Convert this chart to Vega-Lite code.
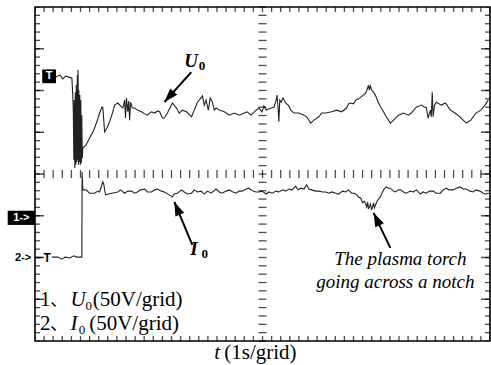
{
  "$schema": "https://vega.github.io/schema/vega-lite/v6.json",
  "width": 455,
  "height": 334,
  "autosize": {"type": "none"},
  "padding": {"left": 35, "top": 7, "right": 1, "bottom": 24},
  "background": "white",
  "config": {"view": {"stroke": "#000", "strokeWidth": 1.6}, "font": "Liberation Serif, Times New Roman, serif"},
  "datasets": {
    "u0": [
      {"x":0.44,"y":6.32},{"x":0.55,"y":6.37},{"x":0.61,"y":6.28},{"x":0.68,"y":6.35},{"x":0.74,"y":6.32},{"x":0.81,"y":6.30},{"x":0.83,"y":5.89},{"x":0.842,"y":5.53},
      {"x":0.853,"y":4.34},{"x":0.864,"y":5.77},{"x":0.875,"y":4.14},{"x":0.886,"y":5.96},{"x":0.897,"y":4.22},{"x":0.908,"y":6.13},{"x":0.919,"y":4.29},{"x":0.930,"y":6.37},{"x":0.941,"y":4.34},{"x":0.947,"y":6.49},{"x":0.956,"y":4.22},{"x":0.963,"y":6.01},{"x":0.974,"y":4.29},{"x":0.985,"y":5.89},{"x":0.996,"y":4.22},{"x":1.007,"y":5.77},{"x":1.018,"y":4.26},{"x":1.028,"y":5.41},{"x":1.039,"y":4.38},{"x":1.050,"y":4.62},
      {"x":1.12,"y":4.69},{"x":1.20,"y":4.86},{"x":1.29,"y":5.05},{"x":1.36,"y":5.25},{"x":1.42,"y":5.46},{"x":1.47,"y":5.60},{"x":1.49,"y":5.60},{"x":1.53,"y":5.01},{"x":1.58,"y":5.10},{"x":1.64,"y":5.25},{"x":1.71,"y":5.49},{"x":1.75,"y":5.65},{"x":1.82,"y":5.70},{"x":1.88,"y":5.63},{"x":1.93,"y":5.58},{"x":1.97,"y":5.77},{"x":1.99,"y":5.34},{"x":2.01,"y":5.82},{"x":2.04,"y":5.49},{"x":2.06,"y":5.75},{"x":2.08,"y":5.29},{"x":2.10,"y":5.72},{"x":2.14,"y":5.58},{"x":2.19,"y":5.58},{"x":2.25,"y":5.53},{"x":2.34,"y":5.49},{"x":2.41,"y":5.44},{"x":2.47,"y":5.41},{"x":2.56,"y":5.49},{"x":2.63,"y":5.46},{"x":2.69,"y":5.51},{"x":2.74,"y":5.49},{"x":2.80,"y":5.34},{"x":2.84,"y":5.34},{"x":2.91,"y":5.46},{"x":3.02,"y":5.70},{"x":3.11,"y":5.58},{"x":3.17,"y":5.46},{"x":3.24,"y":5.53},{"x":3.33,"y":5.49},{"x":3.44,"y":5.37},{"x":3.50,"y":5.53},{"x":3.57,"y":5.72},{"x":3.61,"y":5.77},{"x":3.68,"y":5.87},{"x":3.72,"y":5.65},{"x":3.76,"y":5.77},{"x":3.81,"y":5.53},{"x":3.85,"y":5.82},{"x":3.90,"y":5.72},{"x":3.94,"y":5.53},{"x":3.98,"y":5.58},{"x":4.05,"y":5.53},{"x":4.16,"y":5.49},{"x":4.27,"y":5.41},{"x":4.38,"y":5.46},{"x":4.49,"y":5.41},{"x":4.60,"y":5.46},{"x":4.66,"y":5.49},{"x":4.75,"y":5.41},{"x":4.86,"y":5.53},{"x":4.92,"y":5.58},{"x":4.99,"y":5.49},{"x":5.03,"y":5.63},{"x":5.08,"y":5.53},{"x":5.19,"y":5.58},{"x":5.25,"y":5.60},{"x":5.30,"y":5.77},{"x":5.32,"y":5.89},{"x":5.34,"y":5.63},{"x":5.36,"y":5.25},{"x":5.38,"y":5.77},{"x":5.41,"y":5.72},{"x":5.45,"y":5.82},{"x":5.51,"y":5.70},{"x":5.58,"y":5.63},{"x":5.62,"y":5.53},{"x":5.69,"y":5.46},{"x":5.80,"y":5.46},{"x":5.91,"y":5.41},{"x":5.97,"y":5.37},{"x":6.06,"y":5.22},{"x":6.13,"y":5.29},{"x":6.24,"y":5.37},{"x":6.30,"y":5.46},{"x":6.39,"y":5.46},{"x":6.52,"y":5.49},{"x":6.63,"y":5.53},{"x":6.74,"y":5.49},{"x":6.85,"y":5.58},{"x":6.89,"y":5.68},{"x":6.94,"y":5.70},{"x":7.00,"y":5.68},{"x":7.05,"y":5.77},{"x":7.11,"y":5.80},{"x":7.16,"y":5.84},{"x":7.22,"y":5.89},{"x":7.27,"y":5.94},{"x":7.31,"y":6.06},{"x":7.33,"y":6.13},{"x":7.35,"y":6.01},{"x":7.37,"y":6.11},{"x":7.40,"y":6.01},{"x":7.44,"y":5.96},{"x":7.48,"y":5.89},{"x":7.55,"y":5.70},{"x":7.61,"y":5.58},{"x":7.66,"y":5.49},{"x":7.72,"y":5.37},{"x":7.81,"y":5.22},{"x":7.88,"y":5.29},{"x":7.99,"y":5.41},{"x":8.10,"y":5.46},{"x":8.21,"y":5.41},{"x":8.27,"y":5.46},{"x":8.38,"y":5.60},{"x":8.49,"y":5.65},{"x":8.56,"y":5.60},{"x":8.60,"y":5.60},{"x":8.64,"y":5.34},{"x":8.69,"y":5.53},{"x":8.71,"y":5.37},{"x":8.73,"y":5.96},{"x":8.75,"y":5.37},{"x":8.78,"y":5.65},{"x":8.82,"y":5.72},{"x":8.93,"y":5.65},{"x":9.02,"y":5.70},{"x":9.13,"y":5.53},{"x":9.23,"y":5.46},{"x":9.34,"y":5.37},{"x":9.41,"y":5.29},{"x":9.48,"y":5.22},{"x":9.58,"y":5.29},{"x":9.69,"y":5.46},{"x":9.80,"y":5.53},{"x":9.89,"y":5.65},{"x":9.96,"y":5.77}
    ],
    "i0": [
      {"x":0.37,"y":2.01},{"x":0.50,"y":2.01},{"x":0.59,"y":1.96},{"x":0.66,"y":2.01},{"x":0.77,"y":1.99},{"x":0.85,"y":2.04},{"x":0.92,"y":2.01},{"x":1.03,"y":2.01},{"x":1.035,"y":4.05},{"x":1.05,"y":3.62},{"x":1.12,"y":3.62},{"x":1.20,"y":3.54},{"x":1.31,"y":3.54},{"x":1.38,"y":3.59},{"x":1.42,"y":3.57},{"x":1.49,"y":3.81},{"x":1.51,"y":3.76},{"x":1.55,"y":3.50},{"x":1.69,"y":3.54},{"x":1.82,"y":3.57},{"x":1.88,"y":3.62},{"x":1.97,"y":3.54},{"x":2.04,"y":3.59},{"x":2.12,"y":3.59},{"x":2.19,"y":3.54},{"x":2.25,"y":3.57},{"x":2.32,"y":3.62},{"x":2.41,"y":3.64},{"x":2.47,"y":3.57},{"x":2.56,"y":3.57},{"x":2.63,"y":3.62},{"x":2.69,"y":3.64},{"x":2.78,"y":3.59},{"x":2.84,"y":3.57},{"x":2.95,"y":3.50},{"x":3.02,"y":3.45},{"x":3.06,"y":3.52},{"x":3.13,"y":3.54},{"x":3.22,"y":3.62},{"x":3.28,"y":3.57},{"x":3.35,"y":3.52},{"x":3.44,"y":3.54},{"x":3.50,"y":3.62},{"x":3.57,"y":3.57},{"x":3.65,"y":3.59},{"x":3.72,"y":3.52},{"x":3.79,"y":3.59},{"x":3.87,"y":3.54},{"x":3.98,"y":3.64},{"x":4.05,"y":3.57},{"x":4.11,"y":3.54},{"x":4.20,"y":3.59},{"x":4.27,"y":3.62},{"x":4.35,"y":3.57},{"x":4.42,"y":3.54},{"x":4.49,"y":3.59},{"x":4.55,"y":3.59},{"x":4.64,"y":3.64},{"x":4.70,"y":3.66},{"x":4.79,"y":3.59},{"x":4.86,"y":3.57},{"x":4.92,"y":3.57},{"x":4.99,"y":3.59},{"x":5.08,"y":3.52},{"x":5.14,"y":3.57},{"x":5.21,"y":3.54},{"x":5.30,"y":3.59},{"x":5.36,"y":3.57},{"x":5.45,"y":3.62},{"x":5.51,"y":3.59},{"x":5.58,"y":3.64},{"x":5.65,"y":3.62},{"x":5.69,"y":3.66},{"x":5.73,"y":3.71},{"x":5.78,"y":3.62},{"x":5.84,"y":3.66},{"x":5.91,"y":3.64},{"x":5.97,"y":3.74},{"x":6.02,"y":3.64},{"x":6.08,"y":3.62},{"x":6.17,"y":3.59},{"x":6.24,"y":3.59},{"x":6.32,"y":3.57},{"x":6.39,"y":3.57},{"x":6.46,"y":3.54},{"x":6.52,"y":3.57},{"x":6.61,"y":3.54},{"x":6.67,"y":3.52},{"x":6.76,"y":3.59},{"x":6.83,"y":3.57},{"x":6.89,"y":3.62},{"x":6.96,"y":3.54},{"x":7.02,"y":3.54},{"x":7.07,"y":3.50},{"x":7.11,"y":3.45},{"x":7.16,"y":3.42},{"x":7.20,"y":3.31},{"x":7.24,"y":3.35},{"x":7.29,"y":3.21},{"x":7.31,"y":3.33},{"x":7.33,"y":3.16},{"x":7.37,"y":3.28},{"x":7.40,"y":3.14},{"x":7.44,"y":3.31},{"x":7.46,"y":3.19},{"x":7.51,"y":3.33},{"x":7.55,"y":3.40},{"x":7.59,"y":3.45},{"x":7.66,"y":3.62},{"x":7.72,"y":3.69},{"x":7.77,"y":3.66},{"x":7.81,"y":3.66},{"x":7.88,"y":3.59},{"x":7.92,"y":3.57},{"x":7.99,"y":3.62},{"x":8.03,"y":3.62},{"x":8.10,"y":3.57},{"x":8.16,"y":3.54},{"x":8.25,"y":3.59},{"x":8.32,"y":3.57},{"x":8.38,"y":3.62},{"x":8.47,"y":3.52},{"x":8.53,"y":3.57},{"x":8.60,"y":3.54},{"x":8.67,"y":3.59},{"x":8.75,"y":3.59},{"x":8.82,"y":3.54},{"x":8.91,"y":3.54},{"x":8.97,"y":3.62},{"x":9.04,"y":3.66},{"x":9.10,"y":3.62},{"x":9.19,"y":3.62},{"x":9.26,"y":3.66},{"x":9.34,"y":3.69},{"x":9.41,"y":3.64},{"x":9.48,"y":3.64},{"x":9.56,"y":3.59},{"x":9.63,"y":3.57},{"x":9.69,"y":3.62},{"x":9.78,"y":3.59},{"x":9.85,"y":3.54},{"x":9.91,"y":3.52},{"x":9.98,"y":3.54}
    ],
    "xt": [{"t":0},{"t":0.2},{"t":0.4},{"t":0.6},{"t":0.8},{"t":1},{"t":1.2},{"t":1.4},{"t":1.6},{"t":1.8},{"t":2},{"t":2.2},{"t":2.4},{"t":2.6},{"t":2.8},{"t":3},{"t":3.2},{"t":3.4},{"t":3.6},{"t":3.8},{"t":4},{"t":4.2},{"t":4.4},{"t":4.6},{"t":4.8},{"t":5},{"t":5.2},{"t":5.4},{"t":5.6},{"t":5.8},{"t":6},{"t":6.2},{"t":6.4},{"t":6.6},{"t":6.8},{"t":7},{"t":7.2},{"t":7.4},{"t":7.6},{"t":7.8},{"t":8},{"t":8.2},{"t":8.4},{"t":8.6},{"t":8.8},{"t":9},{"t":9.2},{"t":9.4},{"t":9.6},{"t":9.8},{"t":10}],
    "yt": [{"v":0},{"v":0.2},{"v":0.4},{"v":0.6},{"v":0.8},{"v":1},{"v":1.2},{"v":1.4},{"v":1.6},{"v":1.8},{"v":2},{"v":2.2},{"v":2.4},{"v":2.6},{"v":2.8},{"v":3},{"v":3.2},{"v":3.4},{"v":3.6},{"v":3.8},{"v":4},{"v":4.2},{"v":4.4},{"v":4.6},{"v":4.8},{"v":5},{"v":5.2},{"v":5.4},{"v":5.6},{"v":5.8},{"v":6},{"v":6.2},{"v":6.4},{"v":6.6},{"v":6.8},{"v":7},{"v":7.2},{"v":7.4},{"v":7.6},{"v":7.8},{"v":8}],
    "yM": [{"v":1},{"v":2},{"v":3},{"v":4},{"v":5},{"v":6},{"v":7}],
    "serif": [{"x":0.11,"y":0.84,"text":"1"},{"x":0.11,"y":0.26,"text":"2"},{"x":1.27,"y":0.84,"text":"(50V/grid)"},{"x":1.19,"y":0.26,"text":"(50V/grid)"},{"x":4.16,"y":-0.43,"text":"(1s/grid)"}],
    "cjk": [{"x":0.33,"y":0.84,"text":"、"},{"x":0.33,"y":0.26,"text":"、"}],
    "italic": [{"x":0.78,"y":0.84,"text":"U"},{"x":0.78,"y":0.26,"text":"I"},{"x":3.94,"y":-0.43,"text":"t"}],
    "subs": [{"x":1.11,"y":0.75,"text":"0"},{"x":0.96,"y":0.17,"text":"0"}],
    "bolditalic": [{"x":3.28,"y":6.56,"text":"U"},{"x":3.41,"y":2.06,"text":"I"}],
    "boldsubs": [{"x":3.60,"y":6.50,"text":"0"},{"x":3.66,"y":1.99,"text":"0"}],
    "note": [{"x":8.03,"y":1.82,"text":"The plasma torch"},{"x":7.92,"y":1.27,"text":"going across a notch"}],
    "arrows": [{"x":3.435,"y":6.44,"x2":2.845,"y2":5.725},{"x":3.457,"y":2.30,"x2":3.063,"y2":3.33},{"x":7.81,"y":2.23,"x2":7.44,"y2":3.07}]
  },
  "layer": [
    {
      "data": {"name": "u0"},
      "mark": {"type": "line", "color": "#222", "strokeWidth": 1.1, "clip": true},
      "encoding": {
        "x": {"field": "x", "type": "quantitative", "scale": {"domain": [0, 10], "nice": false, "zero": false},
              "axis": {"values": [1,2,3,4,6,7,8,9], "grid": true, "gridDash": [1.5, 6.85], "gridColor": "#555", "gridWidth": 1.5, "labels": false, "ticks": false, "domain": false, "title": null}},
        "y": {"field": "y", "type": "quantitative", "scale": {"domain": [0, 8], "nice": false, "zero": false},
              "axis": {"values": [1,2,3,5,6,7], "grid": true, "gridDash": [1.5, 7.6], "gridColor": "#555", "gridWidth": 1.5, "labels": false, "ticks": false, "domain": false, "title": null}},
        "order": {"field": "x", "type": "quantitative"}
      }
    },
    {
      "mark": {"type": "rule", "color": "#000", "strokeWidth": 2},
      "encoding": {"x": {"datum": 5, "type": "quantitative", "scale": {"domain": [0, 10]}, "axis": null}}
    },
    {
      "mark": {"type": "rule", "color": "#000", "strokeWidth": 2},
      "encoding": {"y": {"datum": 4, "type": "quantitative", "scale": {"domain": [0, 8]}, "axis": null}}
    },
    {
      "data": {"name": "xt"},
      "mark": {"type": "tick", "orient": "vertical", "size": 10, "thickness": 1.3, "color": "#000", "clip": true},
      "encoding": {"x": {"field": "t", "type": "quantitative", "scale": {"domain": [0, 10]}, "axis": null},
                   "y": {"datum": 0, "type": "quantitative", "scale": {"domain": [0, 8]}, "axis": null}}
    },
    {
      "data": {"name": "xt"},
      "mark": {"type": "tick", "orient": "vertical", "size": 10, "thickness": 1.3, "color": "#000", "clip": true},
      "encoding": {"x": {"field": "t", "type": "quantitative", "scale": {"domain": [0, 10]}, "axis": null},
                   "y": {"datum": 8, "type": "quantitative", "scale": {"domain": [0, 8]}, "axis": null}}
    },
    {
      "data": {"name": "xt"},
      "mark": {"type": "tick", "orient": "vertical", "size": 8, "thickness": 1.3, "color": "#000"},
      "encoding": {"x": {"field": "t", "type": "quantitative", "scale": {"domain": [0, 10]}, "axis": null},
                   "y": {"datum": 4, "type": "quantitative", "scale": {"domain": [0, 8]}, "axis": null}}
    },
    {
      "data": {"name": "yt"},
      "mark": {"type": "tick", "orient": "horizontal", "size": 10, "thickness": 1.3, "color": "#000", "clip": true},
      "encoding": {"y": {"field": "v", "type": "quantitative", "scale": {"domain": [0, 8]}, "axis": null},
                   "x": {"datum": 0, "type": "quantitative", "scale": {"domain": [0, 10]}, "axis": null}}
    },
    {
      "data": {"name": "yt"},
      "mark": {"type": "tick", "orient": "horizontal", "size": 10, "thickness": 1.3, "color": "#000", "clip": true},
      "encoding": {"y": {"field": "v", "type": "quantitative", "scale": {"domain": [0, 8]}, "axis": null},
                   "x": {"datum": 10, "type": "quantitative", "scale": {"domain": [0, 10]}, "axis": null}}
    },
    {
      "data": {"name": "yt"},
      "mark": {"type": "tick", "orient": "horizontal", "size": 8, "thickness": 1.3, "color": "#000"},
      "encoding": {"y": {"field": "v", "type": "quantitative", "scale": {"domain": [0, 8]}, "axis": null},
                   "x": {"datum": 5, "type": "quantitative", "scale": {"domain": [0, 10]}, "axis": null}}
    },
    {
      "data": {"name": "yM"},
      "mark": {"type": "tick", "orient": "horizontal", "size": 18, "thickness": 1.5, "color": "#000", "clip": true},
      "encoding": {"y": {"field": "v", "type": "quantitative", "scale": {"domain": [0, 8]}, "axis": null},
                   "x": {"datum": 0, "type": "quantitative", "scale": {"domain": [0, 10]}, "axis": null}}
    },
    {
      "data": {"name": "yM"},
      "mark": {"type": "tick", "orient": "horizontal", "size": 18, "thickness": 1.5, "color": "#000", "clip": true},
      "encoding": {"y": {"field": "v", "type": "quantitative", "scale": {"domain": [0, 8]}, "axis": null},
                   "x": {"datum": 10, "type": "quantitative", "scale": {"domain": [0, 10]}, "axis": null}}
    },
    {
      "data": {"name": "i0"},
      "mark": {"type": "line", "color": "#222", "strokeWidth": 1.1, "clip": true},
      "encoding": {
        "x": {"field": "x", "type": "quantitative", "scale": {"domain": [0, 10]}},
        "y": {"field": "y", "type": "quantitative", "scale": {"domain": [0, 8]}},
        "order": {"field": "x", "type": "quantitative"}
      }
    },
    {
      "data": {"name": "arrows"},
      "mark": {"type": "rule", "color": "#000", "strokeWidth": 2},
      "encoding": {
        "x": {"field": "x", "type": "quantitative", "scale": {"domain": [0, 10]}},
        "y": {"field": "y", "type": "quantitative", "scale": {"domain": [0, 8]}},
        "x2": {"field": "x2"}, "y2": {"field": "y2"}
      }
    },
    {
      "data": {"values": [{"x": 2.845, "y": 5.725}]},
      "mark": {"type": "point", "shape": "M0,0L0.55,1.6L-0.55,1.6Z", "size": 300, "filled": true, "color": "#000", "opacity": 1, "angle": 222},
      "encoding": {"x": {"field": "x", "type": "quantitative", "scale": {"domain": [0, 10]}}, "y": {"field": "y", "type": "quantitative", "scale": {"domain": [0, 8]}}}
    },
    {
      "data": {"values": [{"x": 3.063, "y": 3.33}]},
      "mark": {"type": "point", "shape": "M0,0L0.55,1.6L-0.55,1.6Z", "size": 300, "filled": true, "color": "#000", "opacity": 1, "angle": 337},
      "encoding": {"x": {"field": "x", "type": "quantitative", "scale": {"domain": [0, 10]}}, "y": {"field": "y", "type": "quantitative", "scale": {"domain": [0, 8]}}}
    },
    {
      "data": {"values": [{"x": 7.44, "y": 3.07}]},
      "mark": {"type": "point", "shape": "M0,0L0.55,1.6L-0.55,1.6Z", "size": 300, "filled": true, "color": "#000", "opacity": 1, "angle": 334},
      "encoding": {"x": {"field": "x", "type": "quantitative", "scale": {"domain": [0, 10]}}, "y": {"field": "y", "type": "quantitative", "scale": {"domain": [0, 8]}}}
    },
    {
      "data": {"values": [{"x": 0.31, "y": 6.34}]},
      "mark": {"type": "point", "shape": "square", "size": 190, "filled": true, "color": "#000", "opacity": 1},
      "encoding": {"x": {"field": "x", "type": "quantitative", "scale": {"domain": [0, 10]}}, "y": {"field": "y", "type": "quantitative", "scale": {"domain": [0, 8]}}}
    },
    {
      "data": {"values": [{"x": 0.31, "y": 6.34, "text": "T"}]},
      "mark": {"type": "text", "font": "Liberation Sans", "fontWeight": "bold", "fontSize": 11, "color": "#fff", "align": "center", "baseline": "middle"},
      "encoding": {"x": {"field": "x", "type": "quantitative", "scale": {"domain": [0, 10]}}, "y": {"field": "y", "type": "quantitative", "scale": {"domain": [0, 8]}}, "text": {"field": "text"}}
    },
    {
      "data": {"values": [{"x": -0.6, "x2": 0, "y": 2.78, "y2": 3.12}]},
      "mark": {"type": "rect", "color": "#000"},
      "encoding": {"x": {"field": "x", "type": "quantitative", "scale": {"domain": [0, 10]}}, "x2": {"field": "x2"}, "y": {"field": "y", "type": "quantitative", "scale": {"domain": [0, 8]}}, "y2": {"field": "y2"}}
    },
    {
      "data": {"values": [{"x": -0.3, "y": 2.95, "text": "1->"}]},
      "mark": {"type": "text", "font": "Liberation Sans", "fontWeight": "bold", "fontSize": 11, "color": "#fff", "align": "center", "baseline": "middle"},
      "encoding": {"x": {"field": "x", "type": "quantitative", "scale": {"domain": [0, 10]}}, "y": {"field": "y", "type": "quantitative", "scale": {"domain": [0, 8]}}, "text": {"field": "text"}}
    },
    {
      "data": {"values": [{"x": -0.26, "y": 1.99, "text": "2->"}]},
      "mark": {"type": "text", "font": "Liberation Sans", "fontWeight": "bold", "fontSize": 11, "color": "#000", "align": "center", "baseline": "middle"},
      "encoding": {"x": {"field": "x", "type": "quantitative", "scale": {"domain": [0, 10]}}, "y": {"field": "y", "type": "quantitative", "scale": {"domain": [0, 8]}}, "text": {"field": "text"}}
    },
    {
      "data": {"values": [{"x": 0.0, "x2": 0.16, "y": 2.0}]},
      "mark": {"type": "rule", "color": "#000", "strokeWidth": 1.3},
      "encoding": {"x": {"field": "x", "type": "quantitative", "scale": {"domain": [0, 10]}}, "x2": {"field": "x2"}, "y": {"field": "y", "type": "quantitative", "scale": {"domain": [0, 8]}}}
    },
    {
      "data": {"values": [{"x": 0.27, "y": 2.0, "text": "T"}]},
      "mark": {"type": "text", "font": "Liberation Sans", "fontWeight": "bold", "fontSize": 12, "color": "#000", "align": "center", "baseline": "middle"},
      "encoding": {"x": {"field": "x", "type": "quantitative", "scale": {"domain": [0, 10]}}, "y": {"field": "y", "type": "quantitative", "scale": {"domain": [0, 8]}}, "text": {"field": "text"}}
    },
    {
      "data": {"name": "serif"},
      "mark": {"type": "text", "font": "Liberation Serif, Times New Roman, serif", "fontSize": 21, "color": "#000", "align": "left", "baseline": "alphabetic"},
      "encoding": {"x": {"field": "x", "type": "quantitative", "scale": {"domain": [0, 10]}}, "y": {"field": "y", "type": "quantitative", "scale": {"domain": [0, 8]}}, "text": {"field": "text"}}
    },
    {
      "data": {"name": "cjk"},
      "mark": {"type": "text", "font": "Noto Sans CJK SC", "fontSize": 18, "color": "#000", "align": "left", "baseline": "alphabetic"},
      "encoding": {"x": {"field": "x", "type": "quantitative", "scale": {"domain": [0, 10]}}, "y": {"field": "y", "type": "quantitative", "scale": {"domain": [0, 8]}}, "text": {"field": "text"}}
    },
    {
      "data": {"name": "italic"},
      "mark": {"type": "text", "font": "Liberation Serif, Times New Roman, serif", "fontSize": 21, "fontStyle": "italic", "color": "#000", "align": "left", "baseline": "alphabetic"},
      "encoding": {"x": {"field": "x", "type": "quantitative", "scale": {"domain": [0, 10]}}, "y": {"field": "y", "type": "quantitative", "scale": {"domain": [0, 8]}}, "text": {"field": "text"}}
    },
    {
      "data": {"name": "subs"},
      "mark": {"type": "text", "font": "Liberation Serif, Times New Roman, serif", "fontSize": 13, "color": "#000", "align": "left", "baseline": "alphabetic"},
      "encoding": {"x": {"field": "x", "type": "quantitative", "scale": {"domain": [0, 10]}}, "y": {"field": "y", "type": "quantitative", "scale": {"domain": [0, 8]}}, "text": {"field": "text"}}
    },
    {
      "data": {"name": "bolditalic"},
      "mark": {"type": "text", "font": "Liberation Serif, Times New Roman, serif", "fontSize": 19, "fontStyle": "italic", "fontWeight": "bold", "color": "#000", "align": "left", "baseline": "alphabetic"},
      "encoding": {"x": {"field": "x", "type": "quantitative", "scale": {"domain": [0, 10]}}, "y": {"field": "y", "type": "quantitative", "scale": {"domain": [0, 8]}}, "text": {"field": "text"}}
    },
    {
      "data": {"name": "boldsubs"},
      "mark": {"type": "text", "font": "Liberation Serif, Times New Roman, serif", "fontSize": 13, "fontWeight": "bold", "color": "#000", "align": "left", "baseline": "alphabetic"},
      "encoding": {"x": {"field": "x", "type": "quantitative", "scale": {"domain": [0, 10]}}, "y": {"field": "y", "type": "quantitative", "scale": {"domain": [0, 8]}}, "text": {"field": "text"}}
    },
    {
      "data": {"name": "note"},
      "mark": {"type": "text", "font": "Liberation Serif, Times New Roman, serif", "fontSize": 19, "fontStyle": "italic", "color": "#000", "align": "center", "baseline": "alphabetic"},
      "encoding": {"x": {"field": "x", "type": "quantitative", "scale": {"domain": [0, 10]}}, "y": {"field": "y", "type": "quantitative", "scale": {"domain": [0, 8]}}, "text": {"field": "text"}}
    }
  ]
}
